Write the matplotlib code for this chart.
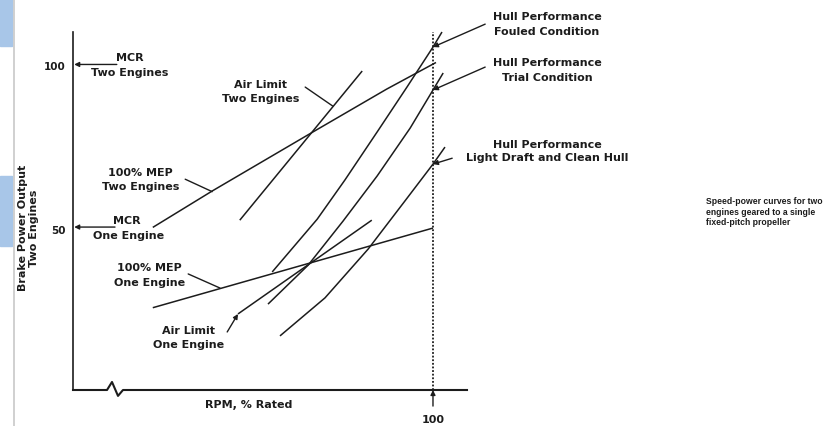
import matplotlib.pyplot as plt
from matplotlib.patches import Rectangle

# ----- Speed-power curves (RPM in % rated, brake power in % of two-engine MCR) -----
fouled_rpm = [73.2, 80.7, 85.3, 90.8, 95.7, 100.0, 101.5]
fouled_pwr = [36.9, 53.0, 64.9, 79.9, 93.4, 105.5, 110.1]

trial_rpm = [72.5, 79.2, 85.0, 90.7, 96.2, 100.0, 101.7]
trial_pwr = [27.1, 39.0, 52.4, 66.2, 80.8, 92.4, 97.6]

light_rpm = [74.5, 82.0, 89.2, 95.3, 100.0, 102.0]
light_pwr = [17.4, 29.0, 43.9, 58.5, 69.8, 75.0]

mep_two_rpm = [53.3, 63.2, 79.7, 92.3, 100.5]
mep_two_pwr = [50.5, 61.6, 79.3, 92.7, 100.8]

mep_one_rpm = [53.3, 100.0]
mep_one_pwr = [26.0, 50.3]

air_two_rpm = [67.8, 88.2]
air_two_pwr = [52.7, 98.2]

air_one_rpm = [67.5, 89.8]
air_one_pwr = [24.1, 52.7]

# axis break on the rpm axis
break_x = [40, 45.67, 46.5, 47.5, 48.33, 105.67]
break_y = [0.9, 0.9, 3.35, -0.9, 0.9, 0.9]

INK = "#1c1c1c"
BOLD = dict(fontsize=8, fontweight="bold", color=INK, ha="center", va="center")

fig = plt.figure(figsize=(8.34, 4.27), dpi=100)
fig.patch.set_facecolor("white")

# scan edge on the left side of the page
fig.patches.append(Rectangle((0, 1 - 47 / 427), 12 / 834, 47 / 427,
                             transform=fig.transFigure, color="#a8c6e8", zorder=0))
fig.patches.append(Rectangle((0, 1 - 247 / 427), 12 / 834, 70 / 427,
                             transform=fig.transFigure, color="#a8c6e8", zorder=0))
fig.add_artist(plt.Line2D([13.5 / 834, 13.5 / 834], [0, 1], transform=fig.transFigure,
                          color="#c8c8c8", lw=1.2))

ax = fig.add_axes([73 / 834, 36 / 427, 394 / 834, 358 / 427])
ax.set_xlim(40, 105.67)
ax.set_ylim(0.9, 110.1)
for side in ["top", "right", "bottom"]:
    ax.spines[side].set_visible(False)
ax.spines["left"].set_linewidth(1.2)
ax.spines["left"].set_color(INK)
ax.set_xticks([])
ax.set_yticks([50, 100])
ax.set_yticklabels(["50", "100"], fontsize=7.5, fontweight="bold", color=INK)
ax.tick_params(axis="y", length=0, pad=5)

ax.plot(break_x, break_y, color=INK, lw=1.5, clip_on=False)

curve_kw = dict(color=INK, lw=1.1, clip_on=False, solid_capstyle="butt",
                solid_joinstyle="round")
ax.plot(fouled_rpm, fouled_pwr, **curve_kw)
ax.plot(trial_rpm, trial_pwr, **curve_kw)
ax.plot(light_rpm, light_pwr, **curve_kw)
ax.plot(mep_two_rpm, mep_two_pwr, **curve_kw)
ax.plot(mep_one_rpm, mep_one_pwr, **curve_kw)
ax.plot(air_two_rpm, air_two_pwr, **curve_kw)
ax.plot(air_one_rpm, air_one_pwr, **curve_kw)

# 100 % rated rpm
ax.plot([100, 100], [0.9, 110.1], color=INK, lw=1.3, linestyle=(0, (1, 1)), clip_on=False)


def leader(start, end, head=True):
    style = "-|>" if head else "-"
    ax.annotate("", xy=end, xytext=start, annotation_clip=False,
                arrowprops=dict(arrowstyle=style, color=INK, lw=1.0,
                                mutation_scale=7, shrinkA=0, shrinkB=0))


# x tick at 100 % rpm
leader((100, -4.0), (100, 0.9))
ax.text(100, -7.9, "100", clip_on=False, **BOLD)
ax.text(69.2, -3.4, "RPM, % Rated", clip_on=False, **BOLD)

ax.text(-0.113, 0.455, "Brake Power Output\nTwo Engines", transform=ax.transAxes,
        rotation=90, multialignment="center", **BOLD)

# MCR markers on the power axis
leader((47.3, 100.2), (40.2, 100.2))
ax.text(49.5, 102.4, "MCR", **BOLD)
ax.text(49.5, 97.9, "Two Engines", **BOLD)
leader((47.0, 50.6), (40.2, 50.6))
ax.text(49.0, 52.7, "MCR", **BOLD)
ax.text(49.2, 48.2, "One Engine", **BOLD)

# engine limit labels
ax.text(71.2, 94.2, "Air Limit", **BOLD)
ax.text(71.2, 89.9, "Two Engines", **BOLD)
leader((78.7, 93.3), (83.3, 87.5), head=False)

ax.text(51.2, 67.4, "100% MEP", **BOLD)
ax.text(51.2, 63.1, "Two Engines", **BOLD)
leader((58.7, 65.2), (63.2, 61.4), head=False)

ax.text(52.7, 38.4, "100% MEP", **BOLD)
ax.text(52.7, 33.8, "One Engine", **BOLD)
leader((59.2, 36.3), (64.5, 32.0), head=False)

ax.text(59.3, 19.2, "Air Limit", **BOLD)
ax.text(59.3, 14.9, "One Engine", **BOLD)
leader((65.7, 18.6), (67.5, 24.1))

# hull performance labels
ax.text(119.0, 114.9, "Hull Performance", **BOLD)
ax.text(119.0, 110.4, "Fouled Condition", **BOLD)
leader((108.7, 112.5), (100.0, 105.5))

ax.text(119.0, 100.9, "Hull Performance", **BOLD)
ax.text(119.0, 96.3, "Trial Condition", **BOLD)
leader((108.7, 99.4), (100.0, 92.4))

ax.text(119.0, 75.9, "Hull Performance", **BOLD)
ax.text(119.0, 72.0, "Light Draft and Clean Hull", **BOLD)
leader((103.2, 71.6), (100.0, 69.8))

caption = ["Speed-power curves for two", "engines geared to a single", "fixed-pitch propeller"]
for i, line in enumerate(caption):
    fig.text(706 / 834, (427 - 202 - 10.5 * i) / 427, line, fontsize=6.2,
             fontweight="bold", family="Liberation Sans", color=INK, va="center")

fig.savefig("out.png", dpi=100)
